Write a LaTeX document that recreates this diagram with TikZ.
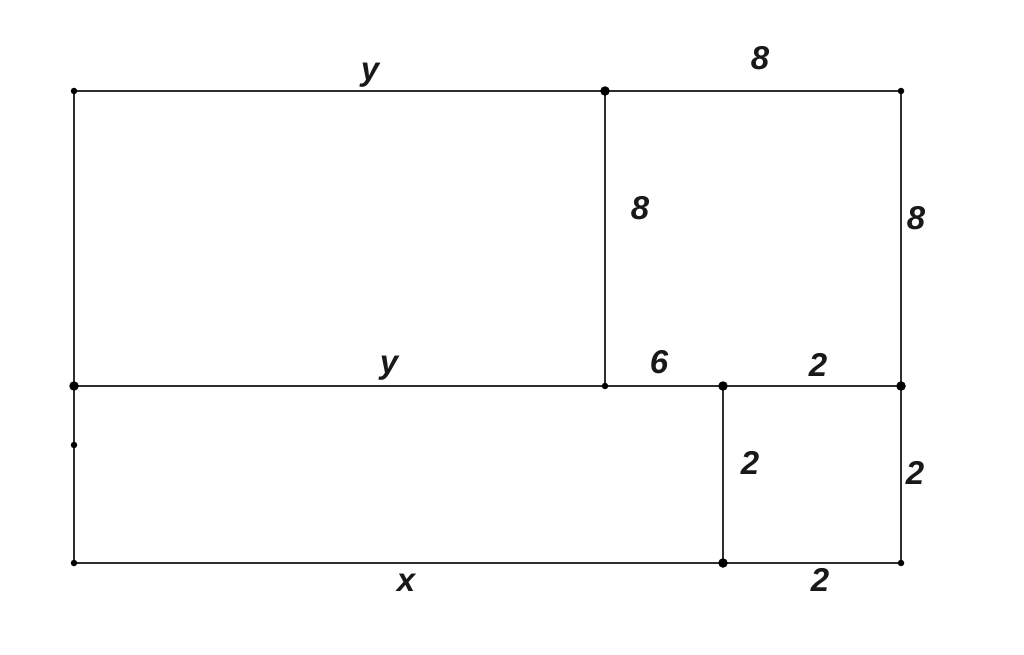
\documentclass[tikz,border=0pt]{standalone}
\usepackage{fontspec}
\setmainfont{Liberation Sans}
\begin{document}
\begin{tikzpicture}[x=1pt,y=-1pt,
  edge/.style={draw=black!82,line width=2.6pt},
  bigdot/.style={circle,fill=black,inner sep=0pt,minimum size=9.5pt},
  smalldot/.style={circle,fill=black,inner sep=0pt,minimum size=6.5pt},
  lbl/.style={font=\fontsize{33}{33}\selectfont\bfseries\itshape,text=black!90,inner sep=0pt}]
\useasboundingbox (0,0) rectangle (1024,655);
\fill[white] (0,0) rectangle (1024,655);
% points
\coordinate (A) at (74,91);
\coordinate (B) at (605,91);
\coordinate (C) at (901,91);
\coordinate (D) at (74,386);
\coordinate (E) at (605,386);
\coordinate (F) at (723,386);
\coordinate (G) at (901,386);
\coordinate (H) at (74,563);
\coordinate (I) at (723,563);
\coordinate (J) at (901,563);
\coordinate (K) at (74,445);
% lines
\draw[edge] (A) -- (B) -- (C) -- (G) -- (J) -- (I) -- (H) -- (K) -- (D) -- (A);
\draw[edge] (B) -- (E);
\draw[edge] (D) -- (E) -- (F) -- (G);
\draw[edge] (F) -- (I);
% dots
\foreach \p in {A,C,E,H,J,K} \node[smalldot] at (\p) {};
\foreach \p in {B,D,F,G,I} \node[bigdot] at (\p) {};
% labels
\node[lbl] (l1) at (370,75) {y};
\node[lbl] (l2) at (760,58) {8};
\node[lbl] (l3) at (640,208) {8};
\node[lbl] (l4) at (916,218) {8};
\node[lbl] (l5) at (389,368) {y};
\node[lbl] (l6) at (659,362) {6};
\node[lbl] (l7) at (818,365) {2};
\node[lbl] (l8) at (750,463) {2};
\node[lbl] (l9) at (915,473) {2};
\node[lbl] (l10) at (406,583) {x};
\node[lbl] (l11) at (820,580) {2};
\end{tikzpicture}
\end{document}
